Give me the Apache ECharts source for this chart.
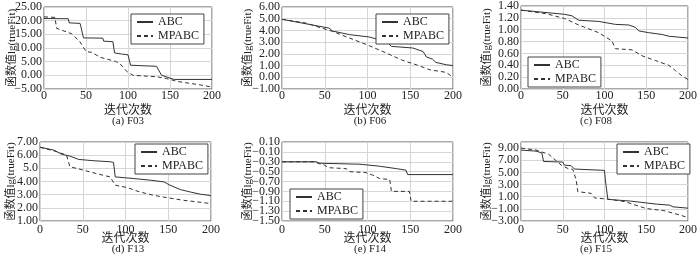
<!DOCTYPE html>
<html>
<head>
<meta charset="utf-8">
<script src="https://cdn.jsdelivr.net/npm/echarts@6/dist/echarts.min.js"></script>
<style>
html, body { margin: 0; padding: 0; background: #fff; }
#chart { width: 700px; height: 260px; }
</style>
</head>
<body>
<div id="chart"></div>
<script>
var seriesNames = ['ABC', 'MPABC'];
var panelTitles = ['(a) F03', '(b) F06', '(c) F08', '(d) F13', '(e) F14', '(e) F15'];

// F03
var f03Ticks = [-5, 0, 5, 10, 15, 20, 25];
var f03AbcX = [0, 29, 30, 43, 47, 70, 71, 82, 84, 92, 100, 103, 134, 140, 150, 155, 200];
var f03AbcY = [20.8, 20.7, 19.2, 19.0, 13.7, 13.6, 12.5, 12.3, 8.2, 7.8, 7.5, 3.7, 3.3, 0.0, -1.0, -1.5, -1.5];
var f03MpX = [0, 13, 15, 33, 43, 50, 57, 67, 85, 90, 99, 106, 134, 146, 160, 186, 200];
var f03MpY = [21.4, 21.2, 17.2, 15.2, 12.2, 8.7, 8.4, 6.6, 5.1, 4.4, 1.3, 0.0, -0.5, -1.2, -2.3, -3.5, -4.3];

// F06
var f06Ticks = [-1, 0, 1, 2, 3, 4, 5, 6];
var f06AbcX = [0, 55, 59, 79, 102, 114, 122, 128, 153, 165, 169, 176, 180, 192, 200];
var f06AbcY = [4.95, 4.2, 3.95, 3.64, 3.44, 3.2, 3.07, 2.64, 2.5, 2.2, 1.73, 1.55, 1.27, 1.07, 1.0];
var f06MpX = [0, 28, 40, 59, 79, 102, 122, 141, 157, 173, 192, 200];
var f06MpY = [4.95, 4.63, 4.35, 3.92, 3.35, 2.7, 2.07, 1.45, 1.07, 0.64, 0.42, 0.0];

// F08
var f08Ticks = [0, 0.2, 0.4, 0.6, 0.8, 1.0, 1.2, 1.4];
var f08AbcX = [0, 52, 61, 69, 93, 113, 129, 137, 141, 153, 169, 177, 200];
var f08AbcY = [1.33, 1.26, 1.235, 1.16, 1.14, 1.09, 1.08, 1.04, 0.98, 0.95, 0.92, 0.89, 0.86];
var f08MpX = [0, 30, 52, 69, 93, 109, 113, 133, 145, 161, 177, 185, 193, 200];
var f08MpY = [1.33, 1.27, 1.19, 1.08, 0.95, 0.81, 0.68, 0.66, 0.56, 0.48, 0.40, 0.31, 0.22, 0.16];

// F13
var f13Ticks = [1, 2, 3, 4, 5, 6, 7];
var f13AbcX = [0, 16, 25, 35, 45, 62, 82, 86, 88, 109, 129, 145, 152, 164, 176, 188, 200];
var f13AbcY = [6.6, 6.39, 6.08, 5.93, 5.68, 5.58, 5.5, 5.45, 4.35, 4.23, 4.1, 3.97, 3.72, 3.39, 3.2, 3.03, 2.93];
var f13MpX = [0, 20, 31, 33, 35, 51, 66, 82, 88, 102, 117, 133, 148, 168, 184, 200];
var f13MpY = [6.6, 6.26, 6.0, 5.88, 5.12, 4.86, 4.6, 4.35, 3.72, 3.54, 3.2, 2.95, 2.78, 2.57, 2.45, 2.32];

// F14
var f14Ticks = [-1.5, -1.3, -1.1, -0.9, -0.7, -0.5, -0.3, -0.1, 0.1];
var f14AbcX = [0, 40, 44, 91, 114, 134, 145, 147, 200];
var f14AbcY = [-0.30, -0.30, -0.33, -0.35, -0.39, -0.44, -0.47, -0.56, -0.56];
var f14MpX = [0, 38, 42, 50, 54, 75, 79, 98, 106, 114, 126, 128, 149, 151, 200];
var f14MpY = [-0.30, -0.30, -0.33, -0.37, -0.42, -0.44, -0.50, -0.52, -0.57, -0.64, -0.66, -0.90, -0.90, -1.10, -1.10];

// F15
var f15Ticks = [-3, -1, 1, 3, 5, 7, 9];
var f15AbcX = [0, 18, 25, 27, 50, 52, 60, 64, 100, 101, 103, 104, 131, 162, 178, 182, 200];
var f15AbcY = [8.67, 8.5, 8.2, 6.8, 6.7, 6.2, 6.1, 5.55, 5.33, 3.78, 3.78, 0.56, 0.28, -0.22, -0.39, -0.67, -0.89];
var f15MpX = [0, 18, 33, 49, 57, 62, 66, 68, 84, 88, 104, 124, 150, 171, 190, 200];
var f15MpY = [9.0, 8.67, 8.0, 6.1, 5.6, 5.5, 3.8, 1.83, 1.55, 0.8, 0.6, 0.2, -0.95, -1.3, -2.0, -2.44];

var FONT = '"Liberation Serif", "Noto Sans CJK SC", serif';

function pairs(xs, ys) {
	return xs.map(function(x, i) { return [x, ys[i]]; });
}

function fmt(v, short5) {
	var s = Math.abs(v).toFixed(2);
	if (short5 && s === '5.00') s = '5.0';
	return (v < -1e-9 ? '\u2212' : '') + s;
}

// every other tick label, so that the labels of one axis never touch
function every2(arr, start) {
	return arr.filter(function(v, i) { return i % 2 === start; });
}

var panels = [
	{ grid: { left: 44, top: 7, width: 168, height: 82 }, min: -5, max: 25, interval: 5, ticks: f03Ticks,
		abc: pairs(f03AbcX, f03AbcY), mp: pairs(f03MpX, f03MpY),
		legend: { left: 131, top: 14 }, yGap: 26, xGap: 16, margin: 1, cap: [128, 121] },
	{ grid: { left: 282, top: 7, width: 171, height: 82 }, min: -1, max: 6, interval: 1, ticks: f06Ticks,
		abc: pairs(f06AbcX, f06AbcY), mp: pairs(f06MpX, f06MpY),
		legend: { left: 376, top: 14 }, yGap: 28, xGap: 16, margin: 1, cap: [370, 121] },
	{ grid: { left: 521, top: 4, width: 168, height: 85 }, min: 0, max: 1.4, interval: 0.2, ticks: f08Ticks,
		abc: pairs(f08AbcX, f08AbcY), mp: pairs(f08MpX, f08MpY),
		legend: { left: 528, top: 57 }, yGap: 28, xGap: 16, margin: 1, cap: [596, 121] },
	{ grid: { left: 40, top: 142, width: 171, height: 79 }, min: 1, max: 7, interval: 1, ticks: f13Ticks,
		abc: pairs(f13AbcX, f13AbcY), mp: pairs(f13MpX, f13MpY), short5: true,
		legend: { left: 135, top: 144 }, yGap: 23, xGap: 12, margin: 3, cap: [128, 249] },
	{ grid: { left: 282, top: 142, width: 171, height: 79 }, min: -1.5, max: 0.1, interval: 0.2, ticks: f14Ticks,
		abc: pairs(f14AbcX, f14AbcY), mp: pairs(f14MpX, f14MpY),
		legend: { left: 290, top: 189 }, yGap: 28, xGap: 12, margin: 3, cap: [370, 249] },
	{ grid: { left: 521, top: 142, width: 170, height: 79 }, min: -3, max: 10, interval: 2, ticks: f15Ticks,
		abc: pairs(f15AbcX, f15AbcY), mp: pairs(f15MpX, f15MpY),
		legend: { left: 617, top: 144 }, yGap: 28, xGap: 12, margin: 3, cap: [596, 249] }
];

var option = {
	animation: false,
	backgroundColor: '#fff',
	textStyle: { fontFamily: FONT },
	grid: [], xAxis: [], yAxis: [], series: [], legend: [], graphic: []
};

panels.forEach(function(p, i) {
	option.grid.push({
		left: p.grid.left, top: p.grid.top, width: p.grid.width, height: p.grid.height,
		show: true, borderColor: '#555', borderWidth: 1, backgroundColor: '#fff'
	});
	option.xAxis.push({
		type: 'value', gridIndex: i, min: 0, max: 200, interval: 50,
		name: '迭代次数', nameLocation: 'middle', nameGap: p.xGap, nameMoveOverlap: false,
		nameTextStyle: { fontFamily: FONT, fontSize: 12, color: '#222' },
		axisLine: { show: false }, axisTick: { show: false },
		axisLabel: { margin: p.margin, fontSize: 12, color: '#222', fontFamily: FONT },
		splitLine: { show: true, lineStyle: { color: '#d6d6d6', width: 1 } }
	});
	var yIdx = option.yAxis.length;
	[0, 1].forEach(function(k) {
		option.yAxis.push({
			type: 'value', gridIndex: i, position: 'left', offset: 0,
			min: p.min, max: p.max, interval: p.interval,
			name: k === 0 ? '函数值lg(trueFit)' : '', nameLocation: 'middle', nameGap: p.yGap, nameMoveOverlap: false,
			nameTextStyle: { fontFamily: FONT, fontSize: 11, color: '#222' },
			axisLine: { show: false }, axisTick: { show: false },
			axisLabel: {
				margin: 2, fontSize: 12, color: '#222', fontFamily: FONT,
				customValues: every2(p.ticks, k),
				formatter: function(v) { return fmt(v, p.short5); }
			},
			splitLine: { show: k === 0, lineStyle: { color: '#d6d6d6', width: 1 } }
		});
	});
	option.series.push({
		name: seriesNames[0], type: 'line', xAxisIndex: i, yAxisIndex: yIdx,
		data: p.abc, symbol: 'none', showSymbol: false,
		lineStyle: { color: '#333', width: 1, type: 'solid' },
		itemStyle: { color: '#333' }
	});
	option.series.push({
		name: seriesNames[1], type: 'line', xAxisIndex: i, yAxisIndex: yIdx,
		data: p.mp, symbol: 'none', showSymbol: false,
		lineStyle: { color: '#333', width: 1, type: [4, 3] },
		itemStyle: { color: '#333' }
	});
	option.legend.push({
		data: seriesNames, orient: 'vertical', left: p.legend.left, top: p.legend.top,
		itemWidth: 16, itemHeight: 8, itemGap: 2, padding: [2, 5],
		borderColor: '#444', borderWidth: 1, backgroundColor: '#fff',
		itemStyle: { opacity: 0 },
		textStyle: { fontFamily: FONT, fontSize: 12, color: '#222' },
		selectedMode: false
	});
	option.graphic.push({
		type: 'text', x: p.cap[0], y: p.cap[1],
		style: { text: panelTitles[i], font: '11px ' + FONT, fill: '#222', align: 'center', verticalAlign: 'middle' }
	});
});

var chart = echarts.init(document.getElementById('chart'));
chart.setOption(option);
</script>
</body>
</html>
